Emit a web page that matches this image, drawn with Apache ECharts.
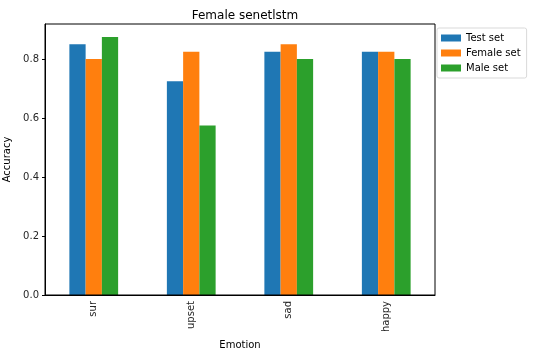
<!DOCTYPE html>
<html>
<head>
<meta charset="utf-8">
<script src="https://cdn.jsdelivr.net/npm/echarts@6/dist/echarts.min.js"></script>
<style>
  html, body { margin: 0; padding: 0; background: #fff; }
  #chart { width: 534px; height: 354px; }
</style>
</head>
<body>
<div id="chart"></div>
<script>
// categories and values
const emotions = ['sur', 'upset', 'sad', 'happy']
const testSet = [0.85, 0.725, 0.825, 0.825]
const femaleSet = [0.8, 0.825, 0.85, 0.825]
const maleSet = [0.875, 0.575, 0.8, 0.8]
const yTicks = [0, 0.2, 0.4, 0.6, 0.8]

const font = 'DejaVu Sans'
const axisText = { color: '#262626', fontFamily: font, fontSize: 10 }

function barSeries (name, data, color) {
  return {
    name: name,
    type: 'bar',
    data: data,
    barGap: '0%',
    barCategoryGap: '50%',
    itemStyle: { color: color },
    emphasis: { disabled: true }
  }
}

const chart = echarts.init(document.getElementById('chart'))
chart.setOption({
  animation: false,
  title: {
    text: 'Female senetlstm',
    left: 240,
    textAlign: 'center',
    top: 5,
    textStyle: { fontFamily: font, fontSize: 12, fontWeight: 'normal', color: '#000' }
  },
  legend: {
    orient: 'vertical',
    left: 437,
    top: 28,
    icon: 'rect',
    itemWidth: 20,
    itemHeight: 7,
    itemGap: 5,
    padding: [5, 6, 5, 4],
    borderColor: '#d9d9d9',
    borderWidth: 1,
    borderRadius: 2,
    textStyle: { fontFamily: font, fontSize: 10, color: '#000' },
    data: ['Test set', 'Female set', 'Male set']
  },
  grid: { left: 45, right: 99, top: 24, bottom: 59, outerBoundsMode: 'none' },
  xAxis: {
    type: 'category',
    data: emotions,
    name: 'Emotion',
    nameLocation: 'middle',
    nameGap: 42,
    nameTextStyle: { fontFamily: font, fontSize: 10, color: '#000' },
    axisLine: { lineStyle: { color: '#000', width: 1 } },
    axisTick: { alignWithLabel: true, length: 3, lineStyle: { color: '#000' } },
    axisLabel: Object.assign({ rotate: 90, margin: 6 }, axisText)
  },
  yAxis: {
    type: 'value',
    min: 0,
    max: 0.91875,
    interval: 0.2,
    name: 'Accuracy',
    nameLocation: 'middle',
    nameGap: 29,
    nameTextStyle: { fontFamily: font, fontSize: 10, color: '#000' },
    splitLine: { show: false },
    axisLine: { show: true, lineStyle: { color: '#000', width: 1 } },
    axisTick: { show: true, length: 3, lineStyle: { color: '#000' } },
    axisLabel: Object.assign({
      margin: 6,
      showMaxLabel: false,
      formatter: function (v) {
        return yTicks.some(t => Math.abs(t - v) < 1e-9) ? v.toFixed(1) : ''
      }
    }, axisText)
  },
  series: [
    barSeries('Test set', testSet, '#1f77b4'),
    barSeries('Female set', femaleSet, '#ff7f0e'),
    barSeries('Male set', maleSet, '#2ca02c')
  ],
  graphic: [{
    type: 'rect',
    shape: { x: 45, y: 24, width: 390, height: 271 },
    style: { fill: 'none', stroke: '#000', lineWidth: 1 },
    silent: true,
    z: 10
  }]
})
</script>
</body>
</html>
